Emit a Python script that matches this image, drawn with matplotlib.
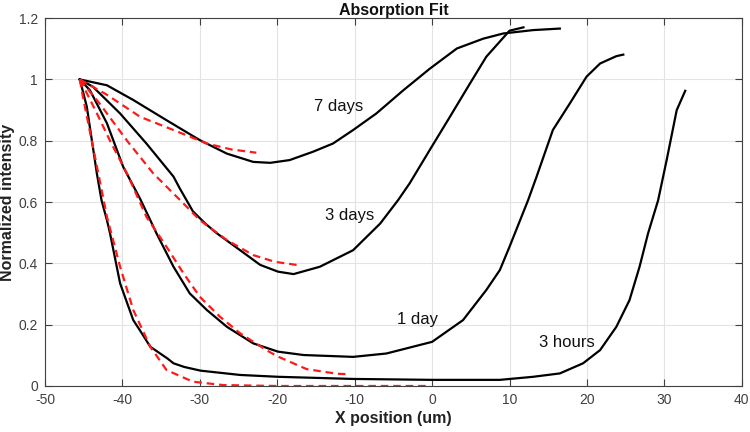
import matplotlib
matplotlib.use('Agg')
import matplotlib.pyplot as plt

plt.rcParams.update({
    'font.family': ['Liberation Sans', 'DejaVu Sans'],
    'font.size': 10,
    'axes.unicode_minus': False,
})

# measured profiles (black) and fits (red dashed)
x_7d = [-45.5, -42.0, -38.6, -34.3, -30.0, -26.5, -23.1, -20.9, -18.4, -15.4, -12.8, -10.2,
        -7.2, -3.7, -0.3, 3.2, 6.6, 9.2, 13.05, 16.5]
y_7d = [1.0, 0.981, 0.933, 0.867, 0.802, 0.758, 0.731, 0.728, 0.737, 0.764, 0.791, 0.835,
        0.889, 0.965, 1.035, 1.101, 1.133, 1.15, 1.161, 1.166]
x_7d_fit = [-45.5, -42, -37.7, -33.4, -29.1, -26, -22.7]
y_7d_fit = [1.0, 0.95, 0.878, 0.835, 0.791, 0.772, 0.761]

x_3d = [-45.5, -43.8, -40.3, -36.9, -33.4, -32.6, -30.9, -29.3, -27.8, -24.8, -22.2, -19.9,
        -17.9, -14.5, -10.2, -6.7, -4.4, -2.9, -0.3, 2.3, 4.9, 7.0, 10.0, 11.8]
y_3d = [1.0, 0.976, 0.889, 0.791, 0.683, 0.645, 0.57, 0.53, 0.498, 0.443, 0.395, 0.373,
        0.365, 0.389, 0.443, 0.530, 0.606, 0.661, 0.770, 0.878, 0.987, 1.074, 1.159, 1.17]
x_3d_fit = [-45.5, -42.9, -39.4, -36.0, -32.1, -30, -26.5, -23.1, -20.3, -17.5]
y_3d_fit = [1.0, 0.92, 0.80, 0.693, 0.595, 0.541, 0.476, 0.427, 0.405, 0.395]

x_1d = [-45.5, -44.2, -42.0, -39.9, -37.7, -36.4, -35.6, -33.4, -31.3, -29.1, -26.5, -23.1,
        -19.9, -16.6, -10.2, -5.9, 0.0, 4.0, 7.0, 8.75, 10.0, 12.4, 13.5, 15.6, 17.8, 19.95,
        21.7, 23.8, 24.7]
y_1d = [1.0, 0.965, 0.857, 0.715, 0.61, 0.541, 0.498, 0.389, 0.302, 0.248, 0.193, 0.139,
        0.112, 0.101, 0.095, 0.106, 0.144, 0.215, 0.313, 0.378, 0.454, 0.606, 0.683, 0.835,
        0.922, 1.009, 1.052, 1.076, 1.081]
x_1d_fit = [-45.5, -43.5, -41.6, -39.4, -36.9, -34.3, -32.1, -30, -27.4, -24.8, -21.4, -20,
            -16.2, -12.3, -10.6]
y_1d_fit = [1.0, 0.90, 0.80, 0.693, 0.552, 0.454, 0.367, 0.291, 0.226, 0.172, 0.117, 0.097,
            0.055, 0.040, 0.038]

x_3h = [-45.5, -44.6, -43.3, -42.7, -42.0, -41.6, -40.3, -38.6, -37.7, -36.4, -34.2, -33.4,
        -32, -29.9, -24.8, -19.9, -10.2, 0, 8.75, 13.05, 16.5, 19.5, 21.7, 23.8, 25.5, 26.8,
        27.9, 29.2, 30.3, 31.6, 32.7]
y_3h = [1.0, 0.911, 0.693, 0.606, 0.541, 0.498, 0.335, 0.215, 0.18, 0.128, 0.09, 0.074,
        0.062, 0.050, 0.036, 0.030, 0.023, 0.020, 0.020, 0.030, 0.041, 0.074, 0.117, 0.193,
        0.280, 0.389, 0.498, 0.606, 0.737, 0.90, 0.963]
x_3h_fit = [-45.5, -45.1, -43.8, -42.0, -40.3, -38.6, -36.4, -34.3, -30.9, -27, -20, -10, -0.7]
y_3h_fit = [1.0, 0.943, 0.78, 0.552, 0.389, 0.248, 0.128, 0.052, 0.014, 0.003, 0.0, 0.0, 0.0]

labels = ['7 days', '3 days', '1 day', '3 hours']
label_xy = [(-12.1, 0.913), (-10.7, 0.557), (-1.9, 0.217), (17.4, 0.141)]

x_ticks = [-50, -40, -30, -20, -10, 0, 10, 20, 30, 40]
y_ticks = [0, 0.2, 0.4, 0.6, 0.8, 1.0, 1.2]
y_ticklabels = ['0', '0.2', '0.4', '0.6', '0.8', '1', '1.2']

fig = plt.figure(figsize=(7.5, 4.32), dpi=100)
ax = fig.add_axes([0.06, 0.1065, 0.929, 0.8515])

for xs, ys in [(x_7d, y_7d), (x_3d, y_3d), (x_1d, y_1d), (x_3h, y_3h)]:
    ax.plot(xs, ys, color='k', lw=1.6, zorder=3, solid_joinstyle='round')
for xs, ys in [(x_7d_fit, y_7d_fit), (x_3d_fit, y_3d_fit), (x_1d_fit, y_1d_fit), (x_3h_fit, y_3h_fit)]:
    ax.plot(xs, ys, color='#ff1a1a', lw=1.6, dashes=(3.4, 2.2), zorder=4)

for txt, (tx, ty) in zip(labels, label_xy):
    ax.text(tx, ty, txt, fontsize=12, ha='center', va='center', color='#111111')

ax.set_xlim(-50, 40)
ax.set_ylim(0, 1.2)
ax.set_xticks(x_ticks)
ax.set_yticks(y_ticks)
ax.set_yticklabels(y_ticklabels)
ax.grid(True, color='#e3e3e3', lw=0.8)
ax.set_axisbelow(True)
ax.tick_params(direction='in', top=True, right=True, length=5, width=0.8,
               colors='#404040', labelsize=10, labelcolor='#404040', pad=5)
for s in ax.spines.values():
    s.set_color('#404040')
    s.set_linewidth(0.8)

ax.set_xlabel('X position (um)', fontweight='bold', fontsize=11.5, color='#222222', labelpad=3)
ax.set_ylabel('Normalized intensity', fontweight='bold', fontsize=11.5, color='#222222', labelpad=3)
ax.set_title('Absorption Fit', fontweight='bold', fontsize=11.5, color='#111111', pad=2)

fig.savefig('out.png', dpi=100)
